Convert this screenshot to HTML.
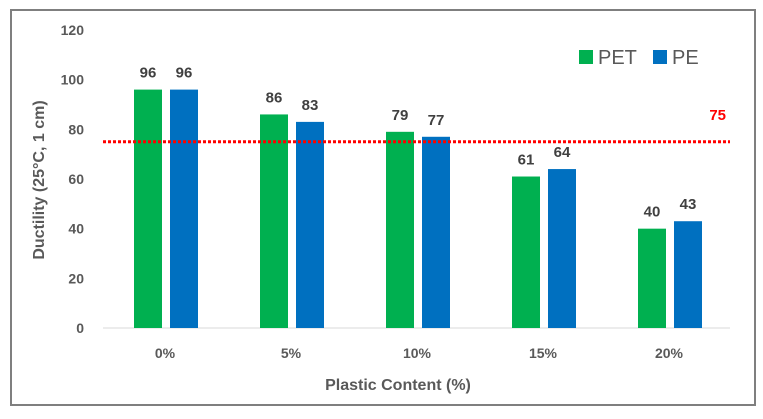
<!DOCTYPE html>
<html><head><meta charset="utf-8"><style>
body{margin:0;background:#fff;width:763px;height:414px;overflow:hidden}
svg text{font-family:"Liberation Sans",sans-serif}
</style></head><body>
<svg width="763" height="414">
<rect x="11" y="10" width="744" height="395" fill="#fff" stroke="#7f7f7f" stroke-width="2"/>
<g id="g"></g>
<text x="398" y="390" text-anchor="middle" font-size="16" font-weight="bold" fill="#595959">Plastic Content (%)</text>
<text transform="translate(44,180) rotate(-90)" text-anchor="middle" font-size="16" font-weight="bold" fill="#595959">Ductility (25°C, 1 cm)</text>
<rect x="579" y="50" width="14" height="14" fill="#00b050"/>
<text x="598" y="64" font-size="20" fill="#595959">PET</text>
<rect x="653" y="50" width="14" height="14" fill="#0070c0"/>
<text x="672" y="64" font-size="20" fill="#595959">PE</text>
</svg>
<script>
const categories=["0%","5%","10%","15%","20%"];
const pet=[96,86,79,61,40];
const pe=[96,83,77,64,43];
const yTicks=[0,20,40,60,80,100,120];
const threshold=75;
const g=document.getElementById('g');
const NS='http://www.w3.org/2000/svg';
const y=v=>328-v*(298/120);
const x=i=>165+i*126;
function mk(t,a){const e=document.createElementNS(NS,t);for(const k in a)e.setAttribute(k,a[k]);g.appendChild(e);return e;}
yTicks.forEach(v=>{const t=mk('text',{x:84,y:y(v)+5,'text-anchor':'end','font-size':14,'font-weight':'bold',fill:'#595959'});t.textContent=v;

});
const ax=mk('line',{x1:103,x2:730,y1:y(0),y2:y(0),stroke:'#d9d9d9','stroke-width':1});


categories.forEach((c,i)=>{
 const t=mk('text',{x:x(i),y:358,'text-anchor':'middle','font-size':14,'font-weight':'bold',fill:'#595959'});t.textContent=c;
 
 
 [[pet[i],'#00b050',-31,'pet'],[pe[i],'#0070c0',5,'pe']].forEach(([v,col,dx,n])=>{
  const b=mk('rect',{x:x(i)+dx,y:y(v),width:28,height:y(0)-y(v),fill:col});
  
  
  const l=mk('text',{x:x(i)+dx+14,y:y(v)-12,'text-anchor':'middle','font-size':15,'font-weight':'bold',fill:'#404040'});l.textContent=v;
  
  
 });
});
const th=mk('line',{x1:103,x2:730,y1:y(threshold),y2:y(threshold),stroke:'#ff0000','stroke-width':3,'stroke-dasharray':'3 2'});


const tl=mk('text',{x:726,y:y(threshold)-22,'text-anchor':'end','font-size':15,'font-weight':'bold',fill:'#ff0000'});tl.textContent=threshold;


</script>
</body></html>
